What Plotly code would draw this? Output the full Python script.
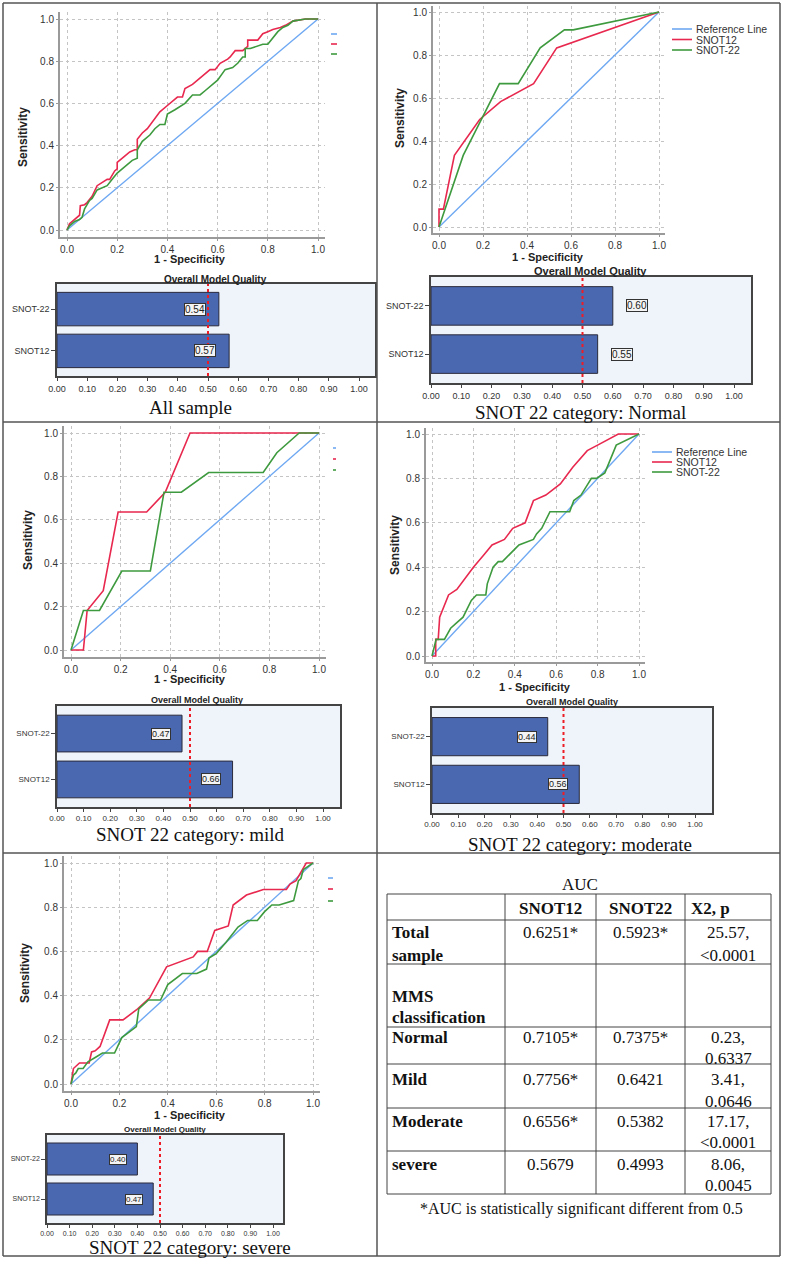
import plotly.graph_objects as go

W, H = 785, 1261

# ---------------- DATA ----------------
panel_titles = ["All sample", "SNOT 22 category: Normal", "SNOT 22 category: mild",
                "SNOT 22 category: moderate", "SNOT 22 category: severe"]
series_names = ["Reference Line", "SNOT12", "SNOT-22"]

all_s12_x = [0, 0.01, 0.02, 0.03, 0.04, 0.05, 0.053, 0.07, 0.08, 0.10, 0.12, 0.15, 0.16, 0.17, 0.19, 0.20, 0.20, 0.23, 0.25, 0.27,
             0.28, 0.28, 0.30, 0.32, 0.34, 0.37, 0.40, 0.42, 0.44, 0.46, 0.47, 0.50, 0.52, 0.54, 0.57, 0.59, 0.61, 0.64, 0.65, 0.67,
             0.70, 0.72, 0.72, 0.76, 0.78, 0.80, 0.82, 0.85, 0.87, 0.90, 0.95, 1.0]
all_s12_y = [0, 0.03, 0.04, 0.05, 0.06, 0.07, 0.115, 0.12, 0.13, 0.16, 0.21, 0.23, 0.24, 0.24, 0.28, 0.29, 0.32, 0.35, 0.37, 0.38,
             0.38, 0.43, 0.46, 0.48, 0.51, 0.56, 0.59, 0.61, 0.63, 0.63, 0.67, 0.69, 0.71, 0.73, 0.76, 0.76, 0.79, 0.81, 0.82, 0.85,
             0.85, 0.87, 0.90, 0.90, 0.93, 0.94, 0.95, 0.96, 0.97, 0.99, 1.0, 1.0]
all_s22_x = [0, 0.01, 0.03, 0.05, 0.06, 0.07, 0.09, 0.10, 0.12, 0.14, 0.16, 0.18, 0.20, 0.22, 0.24, 0.26, 0.28, 0.28, 0.30, 0.33,
             0.35, 0.37, 0.39, 0.40, 0.43, 0.46, 0.47, 0.50, 0.53, 0.55, 0.58, 0.60, 0.63, 0.66, 0.68, 0.70, 0.71, 0.71, 0.73, 0.76,
             0.78, 0.80, 0.84, 0.86, 0.88, 0.90, 0.95, 1.0]
all_s22_y = [0, 0.02, 0.04, 0.05, 0.06, 0.10, 0.14, 0.15, 0.19, 0.20, 0.21, 0.24, 0.27, 0.29, 0.31, 0.33, 0.34, 0.38, 0.42, 0.45,
             0.48, 0.50, 0.50, 0.55, 0.57, 0.59, 0.60, 0.64, 0.64, 0.66, 0.69, 0.71, 0.76, 0.77, 0.79, 0.82, 0.82, 0.86, 0.86, 0.87,
             0.88, 0.88, 0.94, 0.96, 0.97, 0.99, 1.0, 1.0]

nor_s12_x = [0, 0, 0.02, 0.07, 0.185, 0.28, 0.43, 0.535, 1.0]
nor_s12_y = [0, 0.083, 0.083, 0.333, 0.5, 0.583, 0.667, 0.833, 1.0]
nor_s22_x = [0, 0.11, 0.275, 0.36, 0.46, 0.57, 0.61, 1.0]
nor_s22_y = [0, 0.333, 0.667, 0.667, 0.833, 0.917, 0.917, 1.0]

mil_s12_x = [0, 0.05, 0.065, 0.13, 0.19, 0.305, 0.38, 0.48, 1.0]
mil_s12_y = [0, 0, 0.182, 0.273, 0.636, 0.636, 0.727, 1.0, 1.0]
mil_s22_x = [0, 0.05, 0.115, 0.205, 0.32, 0.375, 0.445, 0.555, 0.775, 0.83, 0.92, 1.0]
mil_s22_y = [0, 0.182, 0.182, 0.364, 0.364, 0.727, 0.727, 0.818, 0.818, 0.909, 1.0, 1.0]

mod_s12_x = [0, 0.018, 0.018, 0.03, 0.037, 0.06, 0.08, 0.12, 0.16, 0.20, 0.25, 0.29, 0.35, 0.39, 0.45, 0.49, 0.55, 0.62, 0.68, 0.75,
             0.80, 0.85, 0.90, 1.0]
mod_s12_y = [0, 0, 0.075, 0.075, 0.175, 0.23, 0.275, 0.30, 0.35, 0.40, 0.455, 0.50, 0.525, 0.575, 0.60, 0.70, 0.725, 0.775, 0.85, 0.925,
             0.95, 0.975, 1.0, 1.0]
mod_s22_x = [0, 0.02, 0.06, 0.09, 0.12, 0.15, 0.19, 0.215, 0.26, 0.267, 0.295, 0.32, 0.34, 0.42, 0.49, 0.505, 0.53, 0.57, 0.665, 0.685,
             0.72, 0.77, 0.795, 0.835, 0.89, 1.0]
mod_s22_y = [0, 0.075, 0.075, 0.125, 0.15, 0.175, 0.25, 0.275, 0.275, 0.325, 0.40, 0.425, 0.425, 0.50, 0.525, 0.55, 0.575, 0.65, 0.65, 0.70,
             0.725, 0.80, 0.80, 0.825, 0.95, 1.0]

sev_s12_x = [0, 0.01, 0.035, 0.05, 0.075, 0.085, 0.10, 0.12, 0.16, 0.215, 0.27, 0.325, 0.395, 0.505, 0.523, 0.563, 0.594, 0.65, 0.67, 0.725,
             0.795, 0.89, 0.905, 0.93, 0.96, 0.972, 1.0]
sev_s12_y = [0, 0.07, 0.095, 0.095, 0.095, 0.145, 0.15, 0.17, 0.29, 0.29, 0.335, 0.39, 0.53, 0.575, 0.60, 0.60, 0.695, 0.715, 0.81, 0.855,
             0.88, 0.88, 0.905, 0.92, 0.975, 1.0, 1.0]
sev_s22_x = [0, 0.01, 0.02, 0.03, 0.05, 0.07, 0.10, 0.13, 0.18, 0.21, 0.27, 0.28, 0.32, 0.37, 0.40, 0.46, 0.52, 0.56, 0.57, 0.60,
             0.64, 0.69, 0.73, 0.77, 0.80, 0.83, 0.86, 0.92, 0.94, 0.95, 0.96, 1.0]
sev_s22_y = [0, 0.04, 0.05, 0.07, 0.07, 0.10, 0.12, 0.14, 0.14, 0.21, 0.26, 0.34, 0.38, 0.38, 0.45, 0.50, 0.50, 0.52, 0.57, 0.59,
             0.64, 0.71, 0.74, 0.74, 0.78, 0.81, 0.81, 0.83, 0.92, 0.93, 0.97, 1.0]

ref_x = [0, 1]
ref_y = [0, 1]

roc_tick_vals = [0, 0.2, 0.4, 0.6, 0.8, 1.0]

bar_categories = ["SNOT12", "SNOT-22"]
bar_snot12 = [0.57, 0.55, 0.66, 0.56, 0.47]
bar_snot22 = [0.536, 0.60, 0.47, 0.44, 0.40]
bar_threshold = 0.50
bar_tick_vals = [0.0, 0.1, 0.2, 0.3, 0.4, 0.5, 0.6, 0.7, 0.8, 0.9, 1.0]

table_title = "AUC"
table_header = ["", "SNOT12", "SNOT22", "X2, p"]
table_row_labels = [["Total", "sample"], ["MMS", "classification"], ["Normal"], ["Mild"], ["Moderate"], ["severe"]]
table_snot12 = ["0.6251*", "", "0.7105*", "0.7756*", "0.6556*", "0.5679"]
table_snot22 = ["0.5923*", "", "0.7375*", "0.6421", "0.5382", "0.4993"]
table_chi = [["25.57,", "<0.0001"], [], ["0.23,", "0.6337"], ["3.41,", "0.0646"], ["17.17,", "<0.0001"], ["8.06,", "0.0045"]]
table_note = "*AUC is statistically significant different from 0.5"

# ---------------- STYLE / LAYOUT ----------------
C_REF, C_S12, C_S22 = "#6ea8f2", "#e8284e", "#3e9a3e"
BAR_COLOR = "#4a68b0"
SANS = "Liberation Sans, Arial, sans-serif"
NARROW = "Liberation Sans Narrow, Arial Narrow, Liberation Sans, sans-serif"
SERIF = "Liberation Serif, Times New Roman, serif"

roc_px = [
    dict(x0=67, x1=318, y0=230, y1=19, pad=7, font=10),
    dict(x0=439, x1=659, y0=227, y1=12, pad=6, font=10),
    dict(x0=71, x1=319, y0=650, y1=433, pad=7, font=10),
    dict(x0=432, x1=639, y0=656, y1=434, pad=6, font=10),
    dict(x0=71, x1=313, y0=1084, y1=863, pad=7, font=10),
]
bar_px = [
    dict(left=57, right=375, top=284, bottom=376, one=359, font=9, off=-0.08),
    dict(left=431, right=751, top=277, bottom=383, one=734, font=9, off=0.08),
    dict(left=57, right=340, top=706, bottom=807, one=323, font=8, off=-0.08),
    dict(left=432, right=712, top=708, bottom=813, one=695, font=8, off=-0.08),
    dict(left=47, right=283, top=1135, bottom=1223, one=273, font=7, off=-0.085),
]
spec_lbl = [(190, 259, 11), (548, 257, 11), (190, 679, 11), (535, 687, 11), (190, 1115, 11)]
sens_lbl = [(23, 137), (400, 118), (28, 540), (395, 545), (25, 973)]
omq_lbl = [(215, 279, 10), (590, 271, 11), (197, 700, 9), (572, 702, 9), (165, 1129, 8)]
caption_pos = [(190, 408), (580, 413), (190, 834), (580, 845), (190, 1247)]
legend_px = [
    dict(x0=331, x1=337, ys=[34, 44, 54], text=False),
    dict(x0=672, x1=692, ys=[29, 39.5, 50], text=True),
    dict(x0=333, x1=336, ys=[448, 459, 470], text=False),
    dict(x0=652, x1=672, ys=[452, 462, 472], text=True),
    dict(x0=328, x1=333, ys=[878, 889, 901], text=False),
]

roc_data = [
    (all_s12_x, all_s12_y, all_s22_x, all_s22_y),
    (nor_s12_x, nor_s12_y, nor_s22_x, nor_s22_y),
    (mil_s12_x, mil_s12_y, mil_s22_x, mil_s22_y),
    (mod_s12_x, mod_s12_y, mod_s22_x, mod_s22_y),
    (sev_s12_x, sev_s12_y, sev_s22_x, sev_s22_y),
]


def px(x):
    return x / W


def py(y):
    return 1 - y / H


def key(prefix, k):
    return prefix if k == 1 else f"{prefix}{k}"


fig = go.Figure()
layout = dict(width=W, height=H, margin=dict(l=0, r=0, t=0, b=0, pad=0, autoexpand=False),
              paper_bgcolor="white", plot_bgcolor="white", showlegend=False)
shapes, annotations = [], []


def ann(text, x, y, size, family=SANS, color="#222", xanchor="center", yanchor="middle", angle=0, align="center", **kw):
    annotations.append(dict(text=text, x=px(x), y=py(y), xref="paper", yref="paper", showarrow=False,
                            font=dict(size=size, family=family, color=color), xanchor=xanchor, yanchor=yanchor,
                            textangle=angle, align=align, **kw))


def line(x0, y0, x1, y1, color="#555", width=1.5, dash=None):
    d = dict(type="line", xref="paper", yref="paper", x0=px(x0), y0=py(y0), x1=px(x1), y1=py(y1),
             line=dict(color=color, width=width))
    if dash:
        d["line"]["dash"] = dash
    shapes.append(d)


for i in range(5):
    # ---- ROC subplot ----
    k = 2 * i + 1
    r = roc_px[i]
    ppx = r["x1"] - r["x0"]
    ppy = r["y0"] - r["y1"]
    pad = r["pad"]
    s12x, s12y, s22x, s22y = roc_data[i]
    xa, ya = f"x{k}", f"y{k}"
    fig.add_trace(go.Scatter(x=ref_x, y=ref_y, mode="lines", name=series_names[0],
                             line=dict(color=C_REF, width=1.4), xaxis=xa, yaxis=ya))
    fig.add_trace(go.Scatter(x=s12x, y=s12y, mode="lines", name=series_names[1],
                             line=dict(color=C_S12, width=1.6), xaxis=xa, yaxis=ya))
    fig.add_trace(go.Scatter(x=s22x, y=s22y, mode="lines", name=series_names[2],
                             line=dict(color=C_S22, width=1.6), xaxis=xa, yaxis=ya))
    common = dict(tickvals=roc_tick_vals, tickformat=".1f", showgrid=True, gridcolor="#c4c4c4",
                  griddash="dot", gridwidth=1, showline=True, linecolor="#9a9a9a", linewidth=2,
                  ticks="outside", ticklen=2, tickcolor="#9a9a9a", zeroline=False, automargin=False,
                  tickfont=dict(size=r["font"], family=SANS, color="#333"))
    layout[key("xaxis", k)] = dict(domain=[px(r["x0"] - pad), px(r["x1"] + pad)], anchor=ya,
                                   range=[-pad / ppx, 1 + pad / ppx], **common)
    layout[key("yaxis", k)] = dict(domain=[py(r["y0"] + pad), py(r["y1"] - pad)], anchor=xa,
                                   range=[-pad / ppy, 1 + pad / ppy], **common)
    # axis titles
    sx, sy, ss = spec_lbl[i]
    ann("<b>1 - Specificity</b>", sx, sy, ss)
    lx, ly = sens_lbl[i]
    ann("<b>Sensitivity</b>", lx, ly, 12, family=NARROW, angle=-90)
    # legend glyphs
    lg = legend_px[i]
    for c, yy, nm in zip([C_REF, C_S12, C_S22], lg["ys"], series_names):
        line(lg["x0"], yy, lg["x1"], yy, color=c, width=1.6)
        if lg["text"]:
            ann(nm, lg["x1"] + 2, yy, 10.5, color="#333", xanchor="left")

    # ---- Bar subplot ----
    k = 2 * i + 2
    b = bar_px[i]
    xa, ya = f"x{k}", f"y{k}"
    vals = [bar_snot12[i], bar_snot22[i]]
    fig.add_trace(go.Bar(x=vals, y=bar_categories, orientation="h", width=0.8,
                         marker=dict(color=BAR_COLOR, line=dict(color="#2a2a3a", width=1)),
                         xaxis=xa, yaxis=ya))
    layout[key("xaxis", k)] = dict(domain=[px(b["left"]), px(b["right"])], anchor=ya,
                                   range=[0, (b["right"] - b["left"]) / (b["one"] - b["left"])],
                                   tickvals=bar_tick_vals, tickformat=".2f", showgrid=False, zeroline=False,
                                   showline=True, mirror=True, linecolor="#444", linewidth=1.5,
                                   ticks="outside", ticklen=3, tickcolor="#444", automargin=False,
                                   tickfont=dict(size=b["font"], family=SANS, color="#333"))
    layout[key("yaxis", k)] = dict(domain=[py(b["bottom"]), py(b["top"])], anchor=xa,
                                   type="category", categoryorder="array", categoryarray=bar_categories,
                                   range=[-0.6, 1.6], showgrid=False, zeroline=False,
                                   showline=True, mirror=True, linecolor="#444", linewidth=1.5,
                                   ticks="outside", ticklen=4, tickcolor="#444", automargin=False,
                                   tickfont=dict(size=b["font"], family=SANS, color="#333"))
    shapes.append(dict(type="rect", xref=f"{xa} domain", yref=f"{ya} domain", x0=0, x1=1, y0=0, y1=1,
                       fillcolor="#eef4fa", line=dict(width=0), layer="below"))
    shapes.append(dict(type="line", xref=xa, yref=f"{ya} domain", x0=bar_threshold, x1=bar_threshold,
                       y0=0, y1=1, line=dict(color="#ee1c24", width=2, dash="dot")))
    for cat, v in zip(bar_categories, vals):
        annotations.append(dict(text=f"{v:.2f}", x=v + b["off"], y=cat, xref=xa, yref=ya, showarrow=False,
                                font=dict(size=b["font"] + 1, family=SANS, color="#222"),
                                bgcolor="#f4f4f4", bordercolor="#333", borderwidth=1, borderpad=0))
    ox, oy, osz = omq_lbl[i]
    ann("<b>Overall Model Quality</b>", ox, oy, osz)
    cx, cy = caption_pos[i]
    ann(panel_titles[i], cx, cy, 19, family=SERIF, color="#111")

# ---------------- TABLE ----------------
col_x = [387, 505, 596, 685, 771]
row_y = [894, 920, 964, 1027, 1064, 1108, 1151, 1194]
row_text_off = [(12, 35), (32, 53), (10, 31), (15, 37), (13, 34), (13, 34)]
TFS = 17
ann(table_title, 580, 885, TFS, family=SERIF, color="#111")
for xx in col_x:
    line(xx, row_y[0], xx, row_y[-1], color="#444", width=1)
for yy in row_y:
    line(col_x[0], yy, col_x[-1], yy, color="#444", width=1)
hy = (row_y[0] + row_y[1]) / 2 + 1
for j, h in enumerate(table_header):
    if not h:
        continue
    if j == 3:
        ann(f"<b>{h}</b>", 689, hy, TFS, family=SERIF, color="#111", xanchor="left")
    else:
        ann(f"<b>{h}</b>", (col_x[j] + col_x[j + 1]) / 2, hy, TFS, family=SERIF, color="#111")
for r_i in range(len(table_row_labels)):
    top = row_y[r_i + 1]
    offs = row_text_off[r_i]
    for li, t in enumerate(table_row_labels[r_i]):
        ann(f"<b>{t}</b>", col_x[0] + 3, top + offs[li], TFS, family=SERIF, color="#111", xanchor="left")
    for j, col in enumerate([table_snot12, table_snot22]):
        if col[r_i]:
            ann(col[r_i], (col_x[j + 1] + col_x[j + 2]) / 2, top + offs[0], TFS, family=SERIF, color="#111")
    for li, t in enumerate(table_chi[r_i]):
        ann(t.replace("<", "&lt;"), (col_x[3] + col_x[4]) / 2, top + offs[li], TFS, family=SERIF, color="#111")
ann(table_note, 581, 1209, TFS - 1, family=SERIF, color="#111")

# ---------------- OUTER GRID LINES ----------------
line(3, 3, 780, 3)
line(3, 1256, 780, 1256)
line(3, 3, 3, 1256)
line(780, 3, 780, 1256)
line(377, 3, 377, 1256)
line(3, 422, 780, 422)
line(3, 853, 780, 853)

layout["shapes"] = shapes
layout["annotations"] = annotations
fig.update_layout(**layout)
fig.write_html("out.html", config={"displayModeBar": False},
               post_script="document.body.style.margin='0px';document.body.style.overflow='hidden';")
